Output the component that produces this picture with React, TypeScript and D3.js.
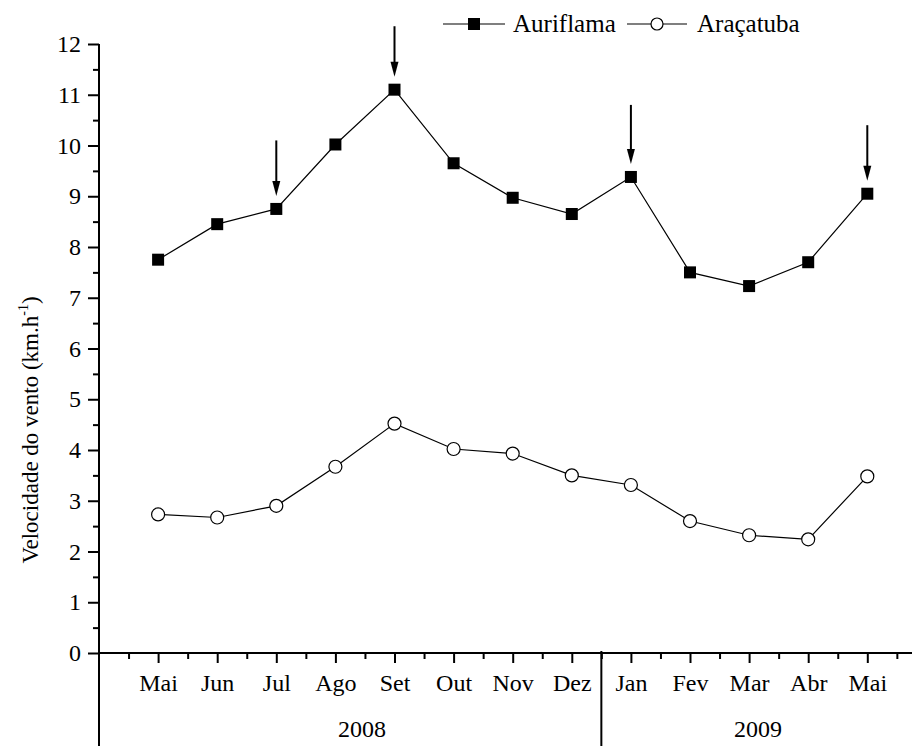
import React, { useEffect, useRef } from 'react';
import * as d3 from 'd3';

const months = ['Mai', 'Jun', 'Jul', 'Ago', 'Set', 'Out', 'Nov', 'Dez', 'Jan', 'Fev', 'Mar', 'Abr', 'Mai'];
const auriflama = [7.75, 8.45, 8.75, 10.02, 11.1, 9.65, 8.97, 8.65, 9.38, 7.5, 7.23, 7.7, 9.05];
const aracatuba = [2.73, 2.67, 2.9, 3.67, 4.52, 4.02, 3.93, 3.5, 3.31, 2.6, 2.32, 2.24, 3.48];
// months (index) marked with an arrow
const arrowMonths = [2, 4, 8, 12];
const arrowTops = [10.1, 12.35, 10.8, 10.4];
const years = [
  { label: '2008', pos: 4.45 },
  { label: '2009', pos: 11.15 },
];
const yTicks = d3.range(0, 13);

const FONT = "'Liberation Serif', 'DejaVu Serif', serif";

const App: React.FC = () => {
  const svgRef = useRef<SVGSVGElement>(null);

  useEffect(() => {
    if (!svgRef.current) return;
    const width = 912;
    const height = 746;

    const svg = d3.select(svgRef.current);
    svg.selectAll('*').remove();
    svg.attr('width', width).attr('height', height);

    const x = d3.scaleLinear().domain([0, 14]).range([99, 99 + 14 * 59.1]);
    const y = d3.scaleLinear().domain([0, 12]).range([653, 44]);

    // minor ticks
    svg.append('g')
      .attr('transform', `translate(0,${y(0)})`)
      .call(d3.axisBottom(x).tickValues(d3.range(0.5, 14, 1)).tickSize(6).tickFormat(() => ''))
      .call(g => g.select('.domain').remove())
      .selectAll('line').attr('stroke-width', 2);

    svg.append('g')
      .attr('transform', `translate(${x(0)},0)`)
      .call(d3.axisLeft(y).tickValues(d3.range(0.5, 12, 1)).tickSize(6).tickFormat(() => ''))
      .call(g => g.select('.domain').remove())
      .selectAll('line').attr('stroke-width', 2);

    // x axis
    const xAxis = svg.append('g')
      .attr('transform', `translate(0,${y(0)})`)
      .call(d3.axisBottom(x)
        .tickValues(d3.range(1, 14))
        .tickSize(10)
        .tickPadding(11)
        .tickFormat((d, i) => months[i]));
    xAxis.attr('font-family', null).attr('font-size', null);
    xAxis.select('.domain').attr('d', `M${x(0)},0H${width}`).attr('stroke-width', 2);
    xAxis.selectAll('line').attr('stroke-width', 2);
    xAxis.selectAll('text')
      .style('font-family', FONT).style('font-size', '24px').attr('fill', '#000');

    // y axis
    const yAxis = svg.append('g')
      .attr('transform', `translate(${x(0)},0)`)
      .call(d3.axisLeft(y).tickValues(yTicks).tickSize(11).tickPadding(7).tickFormat(d3.format('d')));
    yAxis.attr('font-family', null).attr('font-size', null);
    yAxis.select('.domain').attr('d', `M0,${y(12)}V${height}`).attr('stroke-width', 2);
    yAxis.selectAll('line').attr('stroke-width', 2);
    yAxis.selectAll('text')
      .style('font-family', FONT).style('font-size', '24px').attr('fill', '#000');

    // year separator
    svg.append('line')
      .attr('x1', x(8.5)).attr('x2', x(8.5))
      .attr('y1', y(0) - 2).attr('y2', height)
      .attr('stroke', '#000').attr('stroke-width', 2);

    svg.selectAll('text.year')
      .data(years)
      .join('text')
      .attr('class', 'year')
      .attr('x', d => x(d.pos))
      .attr('y', 737)
      .attr('text-anchor', 'middle')
      .style('font-family', FONT).style('font-size', '24px')
      .text(d => d.label);

    // y title
    svg.append('text')
      .attr('transform', `translate(38,430) rotate(-90)`)
      .attr('text-anchor', 'middle')
      .style('font-family', FONT).style('font-size', '23px')
      .call(t => {
        t.append('tspan').text('Velocidade do vento (km.h');
        t.append('tspan').style('font-size', '14px').attr('dy', -10).text('-1');
        t.append('tspan').attr('dy', 10).text(')');
      });

    const line = d3.line<number>().x((d, i) => x(i + 1)).y(d => y(d));

    svg.append('path').datum(auriflama)
      .attr('d', line).attr('fill', 'none').attr('stroke', '#000').attr('stroke-width', 1.2);
    svg.append('path').datum(aracatuba)
      .attr('d', line).attr('fill', 'none').attr('stroke', '#000').attr('stroke-width', 1.2);

    svg.selectAll('rect.au')
      .data(auriflama)
      .join('rect')
      .attr('class', 'au')
      .attr('x', (d, i) => x(i + 1) - 6)
      .attr('y', d => y(d) - 6)
      .attr('width', 12).attr('height', 12)
      .attr('fill', '#000');

    svg.selectAll('circle.ar')
      .data(aracatuba)
      .join('circle')
      .attr('class', 'ar')
      .attr('cx', (d, i) => x(i + 1))
      .attr('cy', d => y(d))
      .attr('r', 6.5)
      .attr('fill', '#fff').attr('stroke', '#000').attr('stroke-width', 1.2);

    // arrows
    arrowMonths.forEach((m, k) => {
      const cx = x(m + 1);
      const tip = y(auriflama[m]) - 13;
      const top = y(arrowTops[k]);
      svg.append('line')
        .attr('x1', cx).attr('x2', cx)
        .attr('y1', top).attr('y2', tip - 10)
        .attr('stroke', '#000').attr('stroke-width', 2);
      svg.append('path')
        .attr('d', `M${cx - 4},${tip - 15}L${cx + 4},${tip - 15}L${cx},${tip}Z`)
        .attr('fill', '#000');
    });

    // legend
    const lg = svg.append('g').attr('transform', 'translate(0,24)');
    lg.append('line').attr('x1', 443).attr('x2', 505).attr('stroke', '#000').attr('stroke-width', 1.2);
    lg.append('rect').attr('x', 468).attr('y', -6).attr('width', 12).attr('height', 12).attr('fill', '#000');
    lg.append('text').attr('x', 513).attr('y', 8)
      .style('font-family', FONT).style('font-size', '25px').text('Auriflama');
    lg.append('line').attr('x1', 627).attr('x2', 687).attr('stroke', '#000').attr('stroke-width', 1.2);
    lg.append('circle').attr('cx', 657).attr('cy', 0).attr('r', 6)
      .attr('fill', '#fff').attr('stroke', '#000').attr('stroke-width', 1.2);
    lg.append('text').attr('x', 697).attr('y', 8)
      .style('font-family', FONT).style('font-size', '25px').text('Araçatuba');
  }, []);

  return (
    <svg
      ref={svgRef}
      style={{ position: 'absolute', left: 0, top: 0, background: '#fff' }}
    />
  );
};

export default App;
